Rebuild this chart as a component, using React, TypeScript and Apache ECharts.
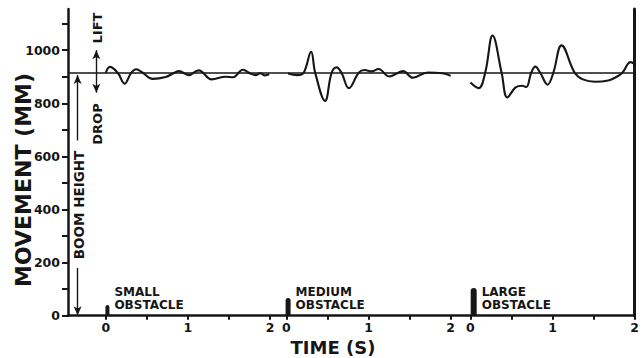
import React, { useEffect, useRef } from 'react';
import * as echarts from 'echarts';

// Time axis: three 0–2 s recordings placed side by side on one global time axis
const SEGMENT_OFFSETS = [0, 2.2, 4.44];
const SEGMENT_TICKS = [0, 0.5, 1, 1.5, 2];
const SEGMENT_LABELS = [0, 1, 2];
const X_MIN = -0.46;
const X_MAX = 6.44;

const Y_TICKS = [0, 100, 200, 300, 400, 500, 600, 700, 800, 900, 1000, 1100];
const Y_LABELS = [0, 200, 400, 600, 800, 1000];
const Y_MAX = 1155;

const BOOM_HEIGHT = 915;

// Small obstacle trace
const smallTime = [0.0, 0.05, 0.145, 0.23, 0.31, 0.37, 0.45, 0.57, 0.73, 0.83, 0.89, 1.01, 1.13, 1.29, 1.46, 1.55, 1.67, 1.76, 1.83, 1.88, 1.94, 1.99];
const smallMove = [915, 937, 915, 874, 915, 928, 915, 892, 899, 914, 921, 906, 924, 890, 900, 898, 926, 912, 906, 913, 905, 909];

// Medium obstacle trace
const mediumTime = [0.02, 0.13, 0.21, 0.3, 0.35, 0.47, 0.55, 0.61, 0.67, 0.76, 0.88, 0.95, 1.04, 1.12, 1.25, 1.42, 1.54, 1.72, 1.9, 2.0];
const mediumMove = [912, 906, 915, 994, 915, 809, 915, 935, 915, 857, 915, 925, 920, 929, 901, 921, 896, 916, 913, 903];

// Large obstacle trace
const largeTime = [0.0, 0.1, 0.18, 0.27, 0.38, 0.45, 0.55, 0.63, 0.68, 0.74, 0.79, 0.85, 0.94, 1.01, 1.11, 1.27, 1.37, 1.52, 1.68, 1.77, 1.85, 1.95, 2.0];
const largeMove = [878, 857, 915, 1055, 915, 822, 860, 866, 861, 915, 938, 915, 870, 915, 1018, 915, 890, 881, 886, 898, 915, 955, 948];

// Obstacles (height in mm, time of impact in s within each segment)
const OBSTACLE_NAMES = ['SMALL', 'MEDIUM', 'LARGE'];
const OBSTACLE_TIMES = [0.02, 0.02, 0.04];
const OBSTACLE_HEIGHTS = [40, 67, 104];

// Annotation arrows (time s, movement mm)
const LIFT_DROP_ARROW = { t: -0.115, from: 1000, to: 840 };
const BOOM_ARROW_UP = { t: -0.343, from: 660, to: 906 };
const BOOM_ARROW_DOWN = { t: -0.343, from: 180, to: 2 };

// styles
const INK = '#161616';
const OBSTACLE_BAR_PX = [4, 5, 6];
const FONT = '"DejaVu Sans", sans-serif';

const toGlobal = (times: number[], seg: number) => times.map((t) => t + SEGMENT_OFFSETS[seg]);
const pairs = (xs: number[], ys: number[]) => xs.map((x, i) => [x, ys[i]]);

const xTickValues = SEGMENT_OFFSETS.flatMap((o) => SEGMENT_TICKS.map((t) => +(t + o).toFixed(4)));
const xLabelValues = SEGMENT_OFFSETS.flatMap((o) => SEGMENT_LABELS.map((t) => +(t + o).toFixed(4)));

const localLabel = (v: number) => {
  let off = 0;
  for (const o of SEGMENT_OFFSETS) if (o <= v + 1e-6) off = o;
  return String(Math.round(v - off));
};

export default function App() {
  const ref = useRef<HTMLDivElement>(null);
  useEffect(() => {
    if (!ref.current) return;
    const chart = echarts.init(ref.current, null, { renderer: 'svg' });
    const traceStyle = { color: INK, width: 2.1 };
    const traces = [
      pairs(toGlobal(smallTime, 0), smallMove),
      pairs(toGlobal(mediumTime, 1), mediumMove),
      pairs(toGlobal(largeTime, 2), largeMove),
    ];
    const option: any = {
      animation: false,
      backgroundColor: '#ffffff',
      grid: { left: 68, right: 2, top: 9, bottom: 42.3, containLabel: false },
      xAxis: {
        type: 'value',
        min: X_MIN,
        max: X_MAX,
        axisLine: { show: true, onZero: false, lineStyle: { color: INK, width: 2.5 } },
        axisTick: { show: true, customValues: xTickValues, length: 4, inside: false, lineStyle: { color: INK, width: 2 } },
        axisLabel: {
          show: true,
          customValues: xLabelValues,
          formatter: (v: number) => localLabel(v),
          margin: 5,
          color: INK,
          fontFamily: FONT,
          fontWeight: 'bold',
          fontSize: 12.5,
        },
        splitLine: { show: false },
      },
      yAxis: [
        {
          type: 'value',
          min: 0,
          max: Y_MAX,
          axisLine: { show: true, onZero: false, lineStyle: { color: INK, width: 2.5 } },
          axisTick: { show: true, customValues: Y_TICKS, length: 6, lineStyle: { color: INK, width: 2 } },
          axisLabel: {
            show: true,
            customValues: Y_LABELS,
            formatter: (v: number) => String(Math.round(v)),
            margin: 8,
            color: INK,
            fontFamily: FONT,
            fontWeight: 'bold',
            fontSize: 12.5,
          },
          splitLine: { show: false },
        },
        {
          type: 'value',
          position: 'right',
          min: 0,
          max: Y_MAX,
          axisLine: { show: true, onZero: false, lineStyle: { color: INK, width: 3 } },
          axisTick: { show: false },
          axisLabel: { show: false },
          splitLine: { show: false },
        },
      ],
      series: [
        ...traces.map((d, i) => ({
          type: 'line',
          data: d,
          smooth: 0.4,
          symbol: 'none',
          lineStyle: traceStyle,
          z: 3,
          ...(i === 0
            ? {
                markLine: {
                  silent: true,
                  symbol: 'none',
                  label: { show: false },
                  lineStyle: { color: INK, width: 1.6, type: 'solid' },
                  data: [{ yAxis: BOOM_HEIGHT }],
                },
              }
            : {}),
        })),
        {
          type: 'line',
          data: [],
          markLine: {
            silent: true,
            symbolSize: [6, 9],
            label: { show: false },
            lineStyle: { color: INK, width: 1.4, type: 'solid' },
            data: [
              [
                { coord: [LIFT_DROP_ARROW.t, LIFT_DROP_ARROW.from], symbol: 'arrow' },
                { coord: [LIFT_DROP_ARROW.t, LIFT_DROP_ARROW.to], symbol: 'arrow' },
              ],
              [
                { coord: [BOOM_ARROW_UP.t, BOOM_ARROW_UP.from], symbol: 'none' },
                { coord: [BOOM_ARROW_UP.t, BOOM_ARROW_UP.to], symbol: 'arrow' },
              ],
              [
                { coord: [BOOM_ARROW_DOWN.t, BOOM_ARROW_DOWN.from], symbol: 'none' },
                { coord: [BOOM_ARROW_DOWN.t, BOOM_ARROW_DOWN.to], symbol: 'arrow' },
              ],
            ],
          },
        },
        {
          type: 'custom',
          z: 4,
          data: OBSTACLE_NAMES.map((_, i) => [OBSTACLE_TIMES[i] + SEGMENT_OFFSETS[i], OBSTACLE_HEIGHTS[i], i]),
          encode: { x: 0, y: 1 },
          renderItem: (_params: any, api: any) => {
            const x = api.value(0);
            const h = api.value(1);
            const i = api.value(2);
            const base = api.coord([x, 0]);
            const top = api.coord([x, h]);
            const w = OBSTACLE_BAR_PX[i];
            const textStyle = (text: string, y: number) => ({
              type: 'text',
              style: {
                text,
                x: base[0] + w / 2 + 5,
                y,
                font: `bold 12px ${FONT}`,
                fill: INK,
                textAlign: 'left',
                textVerticalAlign: 'middle',
                align: 'left',
                verticalAlign: 'middle',
              },
            });
            return {
              type: 'group',
              children: [
                {
                  type: 'rect',
                  shape: { x: base[0] - w / 2, y: top[1], width: w, height: base[1] - top[1], r: [w / 2, w / 2, 0, 0] },
                  style: { fill: INK },
                },
                textStyle(OBSTACLE_NAMES[i], base[1] - 24),
                textStyle('OBSTACLE', base[1] - 10.5),
              ],
            };
          },
        },
      ],
      graphic: [
        { type: 'text', x: 97.5, y: 28, rotation: Math.PI / 2, style: { text: 'LIFT', font: `bold 13px ${FONT}`, fill: INK, textAlign: 'center', textVerticalAlign: 'middle', align: 'center', verticalAlign: 'middle' } },
        { type: 'text', x: 97.5, y: 124, rotation: Math.PI / 2, style: { text: 'DROP', font: `bold 13px ${FONT}`, fill: INK, textAlign: 'center', textVerticalAlign: 'middle', align: 'center', verticalAlign: 'middle' } },
        { type: 'text', x: 79, y: 205, rotation: Math.PI / 2, style: { text: 'BOOM HEIGHT', font: `bold 13.5px ${FONT}`, fill: INK, textAlign: 'center', textVerticalAlign: 'middle', align: 'center', verticalAlign: 'middle' } },
        { type: 'text', x: 23, y: 180, rotation: Math.PI / 2, style: { text: 'MOVEMENT (MM)', font: `bold 22px ${FONT}`, fill: INK, textAlign: 'center', textVerticalAlign: 'middle', align: 'center', verticalAlign: 'middle' } },
        { type: 'text', x: 333, y: 347.5, style: { text: 'TIME (S)', font: `bold 18px ${FONT}`, fill: INK, textAlign: 'center', textVerticalAlign: 'middle', align: 'center', verticalAlign: 'middle' } },
      ],
    };
    chart.setOption(option);
    return () => chart.dispose();
  }, []);
  return <div ref={ref} style={{ width: 642, height: 358, position: 'absolute', left: 0, top: 0 }} />;
}
